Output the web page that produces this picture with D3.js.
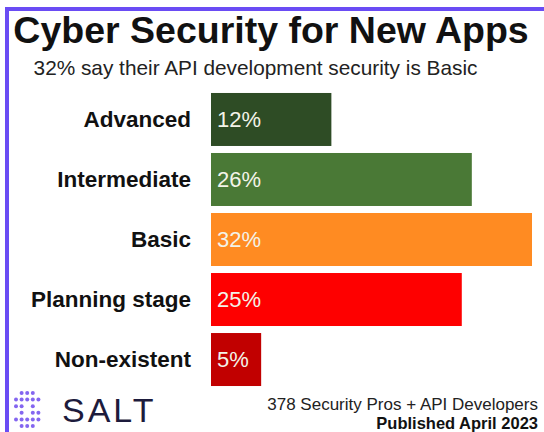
<!DOCTYPE html>
<html>

<head>
    <title>cyberSecurity</title>
    <script src="https://d3js.org/d3.v7.min.js"></script>
</head>
<style>
    body {
        margin: 0;
        background: #fff;
    }

    text {
        font-family: "Liberation Sans", Arial, sans-serif;
    }
</style>

<body>
    <svg width="544" height="432" id="mainsvg"></svg>

    <script>
        const categories = ['Advanced', 'Intermediate', 'Basic', 'Planning stage', 'Non-existent'];
        const values = [12, 26, 32, 25, 5];
        const barColors = ['#2e4c25', '#4a7936', '#ff8b22', '#fe0000', '#c10000'];

        // salt logo dots, rows of 5
        const logoDots = [
            [0, 1, 1, 1, 0],
            [1, 1, 1, 1, 1],
            [1, 1, 0, 1, 0],
            [0, 1, 0, 1, 1],
            [1, 1, 1, 1, 1],
            [0, 1, 1, 1, 0]
        ];

        const svg = d3.select('#mainsvg');
        const width = +svg.attr('width');
        const height = +svg.attr('height');

        // purple frame (top + left)
        svg.append('rect').attr('x', 5).attr('y', 7).attr('width', width).attr('height', 4).attr('fill', '#6a4cf4');
        svg.append('rect').attr('x', 5).attr('y', 7).attr('width', 4).attr('height', height).attr('fill', '#6a4cf4');

        svg.append('text')
            .attr('x', 271).attr('y', 43)
            .attr('text-anchor', 'middle')
            .attr('font-size', '37.5px')
            .attr('font-weight', 'bold')
            .attr('fill', '#111')
            .text('Cyber Security for New Apps');

        svg.append('text')
            .attr('x', 255.5).attr('y', 75)
            .attr('text-anchor', 'middle')
            .attr('font-size', '20.8px')
            .attr('fill', '#222')
            .text('32% say their API development security is Basic');

        const g = svg.append('g').attr('id', 'maingroup');

        const xScale = d3.scaleLinear()
            .domain([0, 32])
            .range([211, 532]);

        const yScale = d3.scaleBand()
            .domain(categories)
            .range([89.5, 389.5])
            .paddingInner(0.117)
            .paddingOuter(0.058);

        g.selectAll('.bar')
            .data(values)
            .join('rect')
            .attr('class', 'bar')
            .attr('x', xScale(0))
            .attr('y', (d, i) => yScale(categories[i]))
            .attr('width', d => xScale(d) - xScale(0))
            .attr('height', yScale.bandwidth())
            .attr('fill', (d, i) => barColors[i]);

        g.selectAll('.val')
            .data(values)
            .join('text')
            .attr('class', 'val')
            .attr('x', xScale(0) + 6)
            .attr('y', (d, i) => yScale(categories[i]) + yScale.bandwidth() / 2)
            .attr('dy', '0.36em')
            .attr('font-size', '22px')
            .attr('fill', '#f3f3e8')
            .text(d => d + '%');

        // category labels, no axis line
        const yAxis = d3.axisLeft(yScale).tickSize(0).tickPadding(0);
        const yAxisGroup = g.append('g')
            .attr('transform', 'translate(191, 0)')
            .call(yAxis);
        yAxisGroup.select('.domain').remove();
        yAxisGroup.selectAll('text')
            .attr('font-size', '22.5px')
            .attr('font-weight', 'bold')
            .attr('font-family', '"Liberation Sans", Arial, sans-serif')
            .attr('fill', '#111');

        // footer
        const logo = svg.append('g').attr('transform', 'translate(16, 393)');
        logoDots.forEach((row, r) => {
            row.forEach((on, c) => {
                if (on) {
                    logo.append('circle')
                        .attr('cx', c * 5.6)
                        .attr('cy', r * 6.6)
                        .attr('r', 2)
                        .attr('fill', '#8466f0');
                }
            });
        });

        svg.append('text')
            .attr('x', 62).attr('y', 422)
            .attr('font-size', '34px')
            .attr('letter-spacing', '3px')
            .attr('fill', '#1d1b3c')
            .text('SALT');

        svg.append('text')
            .attr('x', 538).attr('y', 409.5)
            .attr('text-anchor', 'end')
            .attr('font-size', '17px')
            .attr('fill', '#222')
            .text('378 Security Pros + API Developers');

        svg.append('text')
            .attr('x', 538).attr('y', 429)
            .attr('text-anchor', 'end')
            .attr('font-size', '16.5px')
            .attr('font-weight', 'bold')
            .attr('fill', '#111')
            .text('Published April 2023');
    </script>
</body>

</html>
